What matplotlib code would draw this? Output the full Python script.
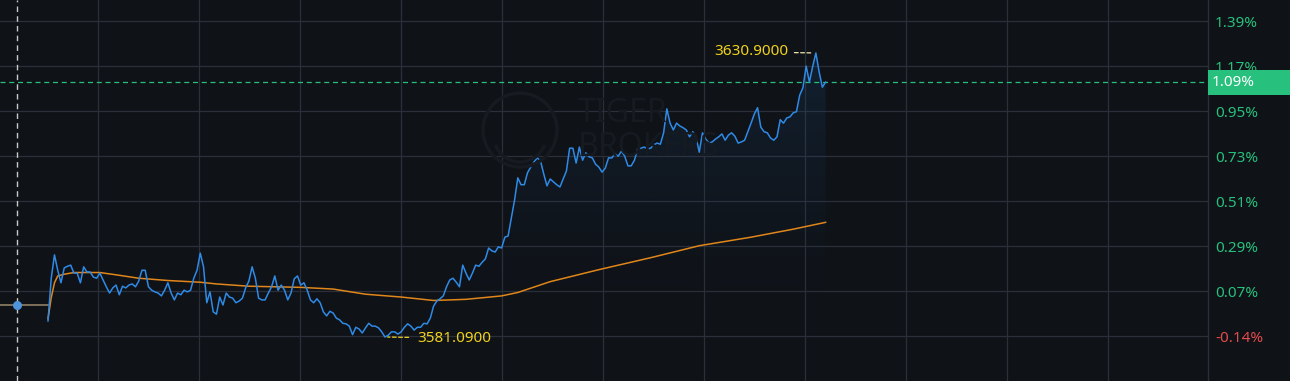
import numpy as np
import matplotlib
matplotlib.use("Agg")
import matplotlib.pyplot as plt
from matplotlib.patches import Rectangle, Circle, Arc
from matplotlib.transforms import IdentityTransform

# ---------------- data ----------------
base_price = 3586.65          # previous close (0 %)
prices = [
    3583.9, 3591.4, 3595.5, 3592.8, 3590.6, 3593.2, 3593.5, 3593.7, 3592.3, 3592.3,
    3590.6, 3593.4, 3592.5, 3592.5, 3591.6, 3591.4, 3592.3, 3591.1, 3589.9, 3588.8,
    3589.7, 3590.2, 3588.5, 3590.0, 3589.7, 3590.2, 3590.4, 3589.9, 3590.9, 3592.8,
    3592.8, 3589.9, 3589.3, 3589.0, 3588.8, 3588.3, 3589.3, 3590.6, 3588.8, 3587.6,
    3588.8, 3588.5, 3589.3, 3589.0, 3589.3, 3591.4, 3592.8, 3595.8, 3593.4, 3587.1,
    3589.0, 3585.5, 3585.1, 3588.1, 3586.7, 3588.8, 3588.1, 3587.9, 3587.1, 3587.4,
    3587.9, 3589.7, 3590.9, 3593.4, 3591.4, 3587.9, 3587.6, 3587.6, 3588.8, 3589.9,
    3591.8, 3589.3, 3590.2, 3589.3, 3587.6, 3588.8, 3591.3, 3591.8, 3590.2, 3590.6,
    3589.3, 3587.6, 3587.1, 3587.8, 3587.1, 3585.5, 3584.8, 3585.6, 3585.3, 3584.4,
    3584.1, 3583.5, 3583.4, 3583.0, 3581.5, 3582.8, 3582.5, 3581.8, 3582.7, 3583.5,
    3583.0, 3583.0, 3582.7, 3582.0, 3581.09, 3581.4, 3582.0, 3582.0, 3581.6, 3582.0,
    3582.8, 3583.4, 3583.0, 3582.3, 3582.8, 3582.8, 3583.5, 3583.4, 3584.4, 3586.5,
    3587.4, 3587.8, 3588.3, 3589.9, 3591.1, 3591.4, 3590.7, 3589.9, 3593.7, 3592.3,
    3591.1, 3592.3, 3593.7, 3593.5, 3594.2, 3594.8, 3596.7, 3596.2, 3596.0, 3596.9,
    3596.7, 3598.6, 3598.8, 3602.0, 3605.1, 3609.0, 3607.8, 3607.8, 3609.9, 3610.9,
    3611.8, 3612.5, 3612.0, 3609.7, 3607.6, 3608.8, 3608.3, 3607.8, 3607.4, 3608.8,
    3610.2, 3614.2, 3614.2, 3611.6, 3614.4, 3612.1, 3613.4, 3612.7, 3612.5, 3611.4,
    3610.9, 3610.0, 3610.7, 3612.5, 3612.5, 3613.2, 3612.8, 3613.7, 3612.8, 3611.1,
    3611.1, 3612.1, 3614.1, 3614.2, 3614.4, 3614.1, 3614.2, 3614.8, 3615.1, 3614.9,
    3616.9, 3621.1, 3618.6, 3617.4, 3618.6, 3618.1, 3617.8, 3617.4, 3616.2, 3617.1,
    3616.2, 3613.5, 3616.9, 3615.8, 3615.1, 3615.3, 3615.8, 3616.2, 3616.7, 3615.6,
    3616.5, 3616.9, 3616.3, 3615.1, 3615.3, 3615.6, 3617.1, 3618.6, 3620.2, 3621.3,
    3617.9, 3617.1, 3616.9, 3616.0, 3615.6, 3616.2, 3619.2, 3618.6, 3619.5, 3619.7,
    3620.4, 3620.6, 3623.5, 3624.8, 3628.6, 3625.8, 3628.5, 3630.9, 3627.6, 3624.9,
    3625.8,
]
avg_minutes = [0, 1, 2, 3, 5, 8, 16, 21, 28, 37, 47, 52, 62, 78, 88, 98, 109, 119,
               129, 140, 145, 155, 170, 186, 201, 217, 230, 240]
avg_prices = [3584.3, 3588.0, 3590.6, 3591.8, 3592.1, 3592.4, 3592.4, 3592.0, 3591.4,
              3591.0, 3590.7, 3590.4, 3590.0, 3589.8, 3589.5, 3588.6, 3588.1, 3587.5,
              3587.7, 3588.3, 3588.9, 3590.8, 3592.9, 3595.0, 3597.1, 3598.6, 3600.0,
              3601.2]
premarket_minutes = [-14.9, 0]
marker_minute = -9.6
pct_ticks = [1.39, 1.17, 0.95, 0.73, 0.51, 0.29, 0.07, -0.15]
pct_labels = ["1.39%", "1.17%", "0.95%", "0.73%", "0.51%", "0.29%", "0.07%", "-0.14%"]
current_label = "1.09%"
high_label = "3630.9000"
low_label = "3581.0900"

# ---------------- style ----------------
W, H, DPI = 1290, 381, 100
AX_W = 1208
PX_PER_MIN = 3.24
OPEN_PX = 48
BG = "#0f1217"
GRID = "#2a2f39"
BLUE = "#2f8ae6"
ORANGE = "#e0861b"
GREEN = "#27c07c"
RED = "#e34b4b"
YELLOW = "#f0d21c"
FONT = "Noto Sans"

def pct2price(p):
    return base_price * (1 + p / 100.0)

fig = plt.figure(figsize=(W / DPI, H / DPI), dpi=DPI, facecolor=BG)
ax = fig.add_axes([0, 0, AX_W / W, 1])
ax.set_facecolor(BG)

minutes = np.arange(len(prices))
xmin = -OPEN_PX / PX_PER_MIN
xmax = (AX_W - OPEN_PX) / PX_PER_MIN
ax.set_xlim(xmin, xmax)
ax.set_ylim(pct2price(-0.37), pct2price(1.4927))

# grid
for k in range(11):
    gx = (98 + 101 * k - OPEN_PX) / PX_PER_MIN
    ax.axvline(gx, color=GRID, lw=0.9, zorder=1)
for p in pct_ticks:
    ax.axhline(pct2price(p), color=GRID, lw=0.9, zorder=1)

# watermark (very faint)
wm = "#161a21"
fig.add_artist(Circle((520, H - 130), 37, transform=IdentityTransform(), fill=False,
                      ec=wm, lw=2.5, zorder=1.5))
fig.add_artist(Arc((520, H - 136), 52, 52, theta1=200, theta2=340,
                   transform=IdentityTransform(), ec=wm, lw=2.5, zorder=1.5))
fig.text(578 / W, 1 - 113 / H, "TIGER", color=wm, fontsize=23, fontweight="bold",
         family=FONT, va="center", ha="left", zorder=1.5)
fig.text(578 / W, 1 - 147 / H, "BROKERS", color=wm, fontsize=23, fontweight="bold",
         family=FONT, va="center", ha="left", zorder=1.5)

# gradient fill below price line
ylo, yhi = ax.get_ylim()
poly = ax.fill_between(minutes, prices, ylo, color="none", lw=0)
grad = np.zeros((256, 1, 4))
rgb = np.array(matplotlib.colors.to_rgb("#1d4f80"))
grad[:, 0, :3] = rgb
yy = np.linspace(1, 0, 256)           # 1 at top
grad[:, 0, 3] = np.clip((yy - 0.18) / 0.82, 0, 1) ** 1.3 * 0.30
im = ax.imshow(grad, extent=[minutes[0], minutes[-1], ylo, yhi], aspect="auto",
               origin="upper", zorder=2)
im.set_clip_path(poly.get_paths()[0], transform=ax.transData)
ax.set_xlim(xmin, xmax)
ax.set_ylim(ylo, yhi)

# pre-market flat line and marker
ax.plot(premarket_minutes, [base_price, base_price], color="#9a8a6c", lw=1.1, zorder=3)
ax.axvline(marker_minute, color="#c9c9c9", lw=1.0, ls=(0, (4, 3)), zorder=3)
ax.plot([marker_minute], [base_price], "o", color="#4d94dc", ms=5.5, zorder=6)

# lines
ax.plot(minutes, prices, color=BLUE, lw=1.1, zorder=5)
ax.plot(avg_minutes, avg_prices, color=ORANGE, lw=1.1, zorder=4)

# current price dashed line
cur = prices[-1]
ax.axhline(cur, color=GREEN, lw=0.9, ls=(0, (4, 3)), zorder=3)

# high / low annotations
ih = int(np.argmax(prices))
il = int(np.argmin(prices))
ax.annotate(low_label, xy=(minutes[il], prices[il]), xytext=(32, -1),
            textcoords="offset pixels", color=YELLOW, fontsize=11, family=FONT,
            va="center", ha="left", zorder=7,
            arrowprops=dict(arrowstyle="-", color=YELLOW, lw=0.9, ls=(0, (3, 2)),
                            shrinkA=4, shrinkB=2))
ax.annotate(high_label, xy=(minutes[ih], prices[ih]), xytext=(-27, 1),
            textcoords="offset pixels", color=YELLOW, fontsize=11, family=FONT,
            va="center", ha="right", zorder=7,
            arrowprops=dict(arrowstyle="-", color="#f3e9b5", lw=0.9, ls=(0, (3, 2)),
                            shrinkA=2, shrinkB=2))

# axis styling
ax.set_xticks([])
ax.yaxis.tick_right()
ax.set_yticks([pct2price(p) for p in pct_ticks])
ax.set_yticklabels(pct_labels, family=FONT, fontsize=11)
ax.tick_params(axis="y", length=0, pad=5)
for lbl, p in zip(ax.get_yticklabels(), pct_ticks):
    lbl.set_color(RED if p < 0 else GREEN)
for s in ["top", "left", "bottom"]:
    ax.spines[s].set_visible(False)
ax.spines["right"].set_color(GRID)
ax.spines["right"].set_linewidth(1.0)

# current value tag on the right axis
ydisp = ax.transData.transform((0, cur))[1]
fig.add_artist(Rectangle((AX_W / W, (ydisp - 12.5) / H), (W - AX_W) / W, 25 / H,
                         transform=fig.transFigure, color=GREEN, zorder=8, lw=0))
fig.text((AX_W + 4) / W, ydisp / H, current_label, color="white", fontsize=11,
         family=FONT, va="center", ha="left", zorder=9)

fig.savefig("out.png", dpi=DPI, facecolor=BG)
